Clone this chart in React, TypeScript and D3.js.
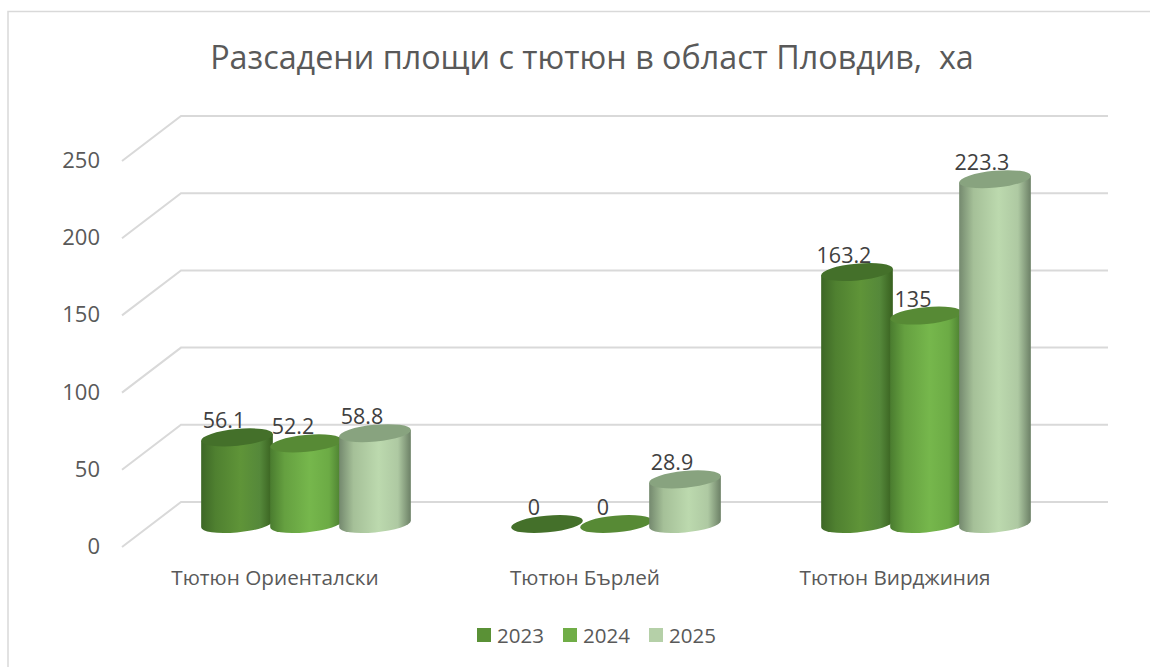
import React, { useEffect, useRef } from 'react';
import * as d3 from 'd3';

const categories = ['Тютюн Ориенталски', 'Тютюн Бърлей', 'Тютюн Вирджиния'];
const years = ['2023', '2024', '2025'];
const values2023 = [56.1, 0, 163.2];
const values2024 = [52.2, 0, 135];
const values2025 = [58.8, 28.9, 223.3];
const seriesValues = [values2023, values2024, values2025];
const title = 'Разсадени площи с тютюн в област Пловдив,  ха';

const FONT = '"Open Sans", sans-serif';
const TEXT = '#595959';
const GRID = '#d9d9d9';

// side gradient stops and cap colour for each year
const palette = [
	{ stops: ['#3d6726', '#4f8030', '#5f9438', '#55883a', '#38601f'], cap: '#44702a', key: '#5a9136' },
	{ stops: ['#4a7c2f', '#65a040', '#76b74c', '#6cab45', '#4a7c2f'], cap: '#578a35', key: '#70ad47' },
	{ stops: ['#74896e', '#a5c098', '#bcd9ae', '#aec9a2', '#6c8066'], cap: '#88a37f', key: '#b5d0a8' },
];
const stopOffsets = [0, 0.2, 0.55, 0.82, 1];

const width = 1164;
const height = 667;
const depthX = 59;
const depthY = 45;
const rx = 36;
const ry = 8.4;
const tilt = -5.5;

const App = () => {
	const container = useRef<SVGSVGElement>(null);

	useEffect(() => {
		const svg = d3.select(container.current);
		svg.selectAll('*').remove();

		const yWall = d3.scaleLinear().domain([0, 250]).range([502, 116]);
		const yBar = d3.scaleLinear().domain([0, 250]).range([524, 138]);
		const x0 = d3.scaleBand().domain(categories).range([151, 1081]);
		const x1 = d3.scaleBand().domain(years).range([-103.5, 103.5]);

		// extreme points of the tilted ellipse, where the cylinder side is tangent
		const th = (tilt * Math.PI) / 180;
		const t = Math.atan2(-ry * Math.sin(th), rx * Math.cos(th));
		const ex = rx * Math.cos(t) * Math.cos(th) - ry * Math.sin(t) * Math.sin(th);
		const ey = rx * Math.cos(t) * Math.sin(th) + ry * Math.sin(t) * Math.cos(th);

		const defs = svg.append('defs');
		palette.forEach((p, i) => {
			const grad = defs
				.append('linearGradient')
				.attr('id', `side-${i}`)
				.attr('x1', 0)
				.attr('x2', 1)
				.attr('y1', 0)
				.attr('y2', 0);
			stopOffsets.forEach((o, j) => {
				grad.append('stop').attr('offset', o).attr('stop-color', p.stops[j]);
			});
		});

		// chart frame
		svg.append('path')
			.attr('d', `M8,667V11.5H1150`)
			.attr('fill', 'none')
			.attr('stroke', GRID)
			.attr('stroke-width', 1.5);

		svg.append('text')
			.attr('x', 592)
			.attr('y', 69)
			.attr('text-anchor', 'middle')
			.attr('font-family', FONT)
			.attr('font-size', 32.3)
			.attr('fill', TEXT)
			.style('white-space', 'pre')
			.text(title);

		// grid lines: floor edge on the left, back wall to the right
		const ticks = yWall.ticks(5);
		svg.selectAll('.grid')
			.data(ticks)
			.join('path')
			.attr('class', 'grid')
			.attr('d', d => {
				const y = yWall(d);
				return `M122,${y + depthY}L${122 + depthX},${y}H1108`;
			})
			.attr('fill', 'none')
			.attr('stroke', GRID)
			.attr('stroke-width', 2);

		svg.selectAll('.tick-label')
			.data(ticks)
			.join('text')
			.attr('class', 'tick-label')
			.attr('x', 100)
			.attr('y', d => yWall(d) + depthY + 7)
			.attr('text-anchor', 'end')
			.attr('font-family', FONT)
			.attr('font-size', 22)
			.attr('fill', TEXT)
			.text(d => d);

		svg.selectAll('.cat-label')
			.data(categories)
			.join('text')
			.attr('class', 'cat-label')
			.attr('x', d => x0(d)! + x0.bandwidth() / 2 - 31)
			.attr('y', 585)
			.attr('text-anchor', 'middle')
			.attr('font-family', FONT)
			.attr('font-size', 20.7)
			.attr('fill', TEXT)
			.text(d => d);

		categories.forEach((cat, c) => {
			const mid = x0(cat)! + x0.bandwidth() / 2;
			years.forEach((yr, s) => {
				const v = seriesValues[s][c];
				const cx = mid + x1(yr)! + x1.bandwidth() / 2;
				const top = yBar(v);
				const base = yBar(0);
				const g = svg.append('g');
				if (v > 0) {
					g.append('path')
						.attr(
							'd',
							`M${cx - ex},${top - ey}L${cx - ex},${base - ey}` +
								`A${rx},${ry} ${tilt} 0 0 ${cx + ex},${base + ey}L${cx + ex},${top + ey}Z`
						)
						.attr('fill', `url(#side-${s})`);
				}
				g.append('ellipse')
					.attr('cx', cx)
					.attr('cy', top)
					.attr('rx', rx)
					.attr('ry', ry)
					.attr('transform', `rotate(${tilt} ${cx} ${top})`)
					.attr('fill', palette[s].cap);
			});
		});

		// data labels sit above everything
		categories.forEach((cat, c) => {
			const mid = x0(cat)! + x0.bandwidth() / 2;
			years.forEach((yr, s) => {
				const v = seriesValues[s][c];
				svg.append('text')
					.attr('x', mid + x1(yr)! + x1.bandwidth() / 2 - 13)
					.attr('y', yBar(v) - 9)
					.attr('text-anchor', 'middle')
					.attr('font-family', FONT)
					.attr('font-size', 21.5)
					.attr('fill', '#404040')
					.text(v);
			});
		});

		// legend
		const legendX = d3.scalePoint().domain(years).range([477, 649]);
		const legend = svg
			.selectAll('.legend')
			.data(years)
			.join('g')
			.attr('class', 'legend')
			.attr('transform', d => `translate(${legendX(d)},628)`);
		legend
			.append('rect')
			.attr('width', 14)
			.attr('height', 14)
			.attr('fill', (d, i) => palette[i].key);
		legend
			.append('text')
			.attr('x', 20)
			.attr('y', 14.5)
			.attr('font-family', FONT)
			.attr('font-size', 20.5)
			.attr('fill', TEXT)
			.text(d => d);
	}, []);

	return (
		<svg
			ref={container}
			width={width}
			height={height}
			style={{ position: 'absolute', left: 0, top: 0, background: '#fff' }}
		/>
	);
};

export default App;
